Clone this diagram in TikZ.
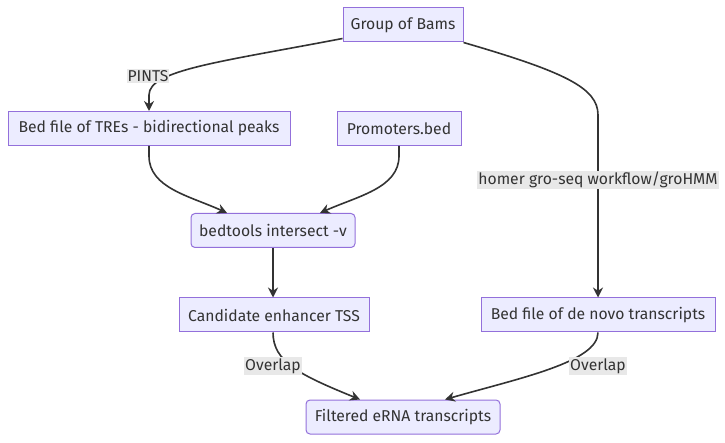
\documentclass[tikz,border=0pt]{standalone}
\usepackage{fontspec}
\setmainfont{Fira Sans}
\usetikzlibrary{arrows.meta}
\definecolor{nfill}{HTML}{ECECFF}
\definecolor{nborder}{HTML}{9370DB}
\definecolor{lcol}{HTML}{333333}
\definecolor{lblbg}{HTML}{E8E8E8}
\tikzset{
  box/.style={draw=nborder, fill=nfill, line width=1pt, text=lcol, inner sep=0pt, minimum height=34pt, font=\fontsize{15.7}{18}\selectfont},
  rbox/.style={box, rounded corners=4pt},
  lbl/.style={fill=lblbg, text=lcol, inner sep=1pt, font=\fontsize{15.7}{18}\selectfont},
  conn/.style={draw=lcol, line width=1.6pt, -{Stealth[length=10pt,width=10pt]}},
}
\begin{document}
\begin{tikzpicture}[x=1pt,y=-1pt]
\useasboundingbox (0,0) rectangle (725,443);
\node[box, minimum width=120pt] (bams) at (403,25) {Group of Bams};
\node[box, minimum width=282pt] (tre) at (149,128.5) {Bed file of TREs - bidirectional peaks};
\node[box, minimum width=124pt] (prom) at (399,128.5) {Promoters.bed};
\node[rbox, minimum width=164pt] (bt) at (273,230.5) {bedtools intersect -v};
\node[box, minimum width=190pt] (cand) at (274,315) {Candidate enhancer TSS};
\node[box, minimum width=234pt] (denovo) at (598,315) {Bed file of de novo transcripts};
\node[rbox, minimum width=194pt] (filt) at (403,417) {Filtered eRNA transcripts};

\coordinate (t1) at (149,95);
\coordinate (t2) at (598,115);
\draw[lcol, line width=1.6pt] ([yshift=4pt]bams.south west) .. controls (220,62) and (149,70) .. (t1);
\draw[conn] (t1) -- (tre.north);
\draw[lcol, line width=1.6pt] (bams.south east) .. controls (565,72) and (598,88) .. (t2);
\draw[conn] (t2) -- (denovo.north);

\draw[conn] (tre.south) -- ++(0,10) .. controls (149,188) and (190,196) .. ([xshift=-46pt]bt.north);
\draw[conn] (prom.south) -- ++(0,10) .. controls (399,188) and (358,196) .. ([xshift=47pt]bt.north);
\draw[conn] (bt.south) -- (bt.south |- cand.north);

\draw[conn] ([xshift=-1pt]cand.south) .. controls (273,362) and (300,375) .. ([xshift=-43pt]filt.north);
\draw[conn] (denovo.south) .. controls (598,362) and (520,378) .. ([xshift=42pt]filt.north);

\node[lbl] (l1) at (148,76) {PINTS};
\node[lbl] (l2) at (598,180) {homer gro-seq workflow/groHMM};
\node[lbl] (l3) at (273,366) {Overlap};
\node[lbl] (l4) at (598,366) {Overlap};
\end{tikzpicture}
\end{document}
